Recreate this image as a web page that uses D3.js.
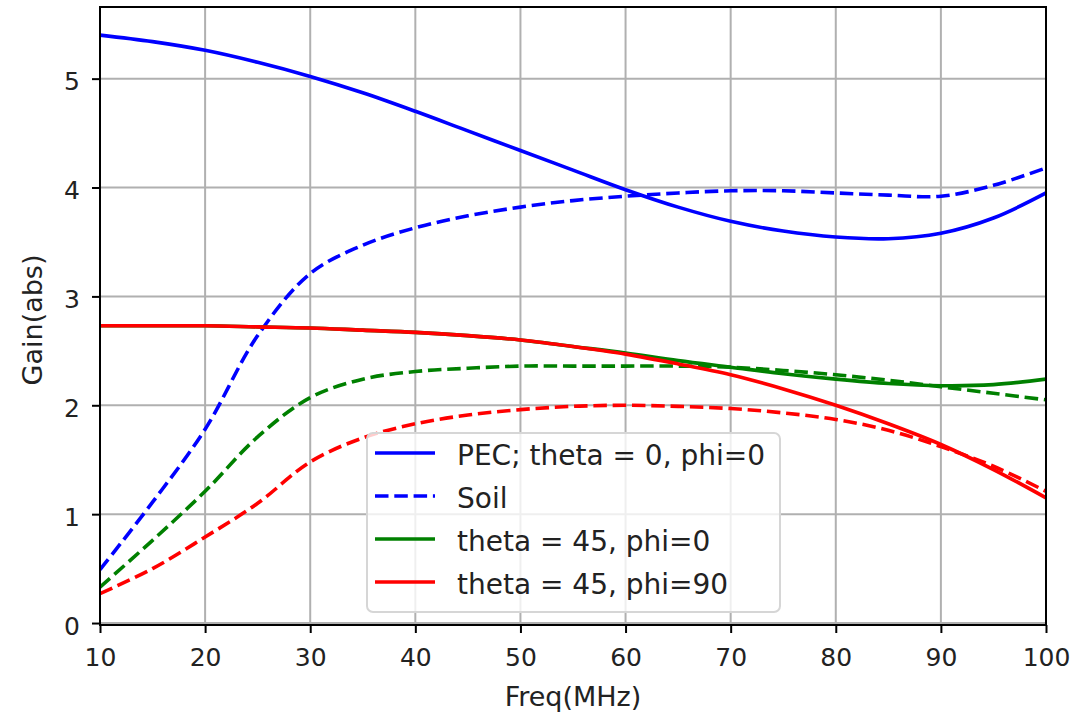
<!DOCTYPE html>
<html>
<head>
<meta charset="utf-8">
<script src="https://cdn.jsdelivr.net/npm/d3@7"></script>
<style>
  html, body { margin: 0; padding: 0; background: #ffffff; }
  svg { display: block; font-family: "DejaVu Sans", sans-serif; }
</style>
</head>
<body>
<svg id="chart" width="1085" height="716"></svg>
<script>
// Frequency samples (MHz)
const freq = [10, 15, 20, 25, 30, 35, 40, 45, 50, 55, 60, 65, 70, 75, 80, 85, 90, 95, 100];

// Gain (abs) per configuration
const pecTheta0 = [5.40, 5.34, 5.26, 5.15, 5.02, 4.87, 4.70, 4.52, 4.34, 4.16, 3.98, 3.82, 3.69, 3.60, 3.545, 3.53, 3.58, 3.72, 3.95];
const soilTheta0 = [0.49, 1.11, 1.78, 2.64, 3.21, 3.47, 3.63, 3.74, 3.82, 3.88, 3.92, 3.95, 3.97, 3.97, 3.95, 3.93, 3.92, 4.02, 4.18];
const pecTheta45Phi0 = [2.73, 2.73, 2.73, 2.72, 2.71, 2.69, 2.67, 2.64, 2.60, 2.54, 2.48, 2.41, 2.35, 2.29, 2.24, 2.20, 2.18, 2.19, 2.24];
const soilTheta45Phi0 = [0.33, 0.76, 1.21, 1.71, 2.07, 2.24, 2.31, 2.34, 2.36, 2.36, 2.36, 2.36, 2.35, 2.32, 2.28, 2.23, 2.17, 2.11, 2.05];
const pecTheta45Phi90 = [2.73, 2.73, 2.73, 2.72, 2.71, 2.69, 2.67, 2.64, 2.60, 2.54, 2.47, 2.38, 2.28, 2.15, 2.00, 1.83, 1.64, 1.41, 1.15];
const soilTheta45Phi90 = [0.27, 0.50, 0.79, 1.10, 1.48, 1.70, 1.83, 1.91, 1.96, 1.99, 2.00, 1.99, 1.97, 1.93, 1.87, 1.77, 1.62, 1.44, 1.21];

const xTicks = [10, 20, 30, 40, 50, 60, 70, 80, 90, 100];
const yTicks = [0, 1, 2, 3, 4, 5];

const series = [
  { values: pecTheta0, color: "#0000ff", dashed: false },
  { values: soilTheta0, color: "#0000ff", dashed: true },
  { values: pecTheta45Phi0, color: "#008000", dashed: false },
  { values: soilTheta45Phi0, color: "#008000", dashed: true },
  { values: pecTheta45Phi90, color: "#ff0000", dashed: false },
  { values: soilTheta45Phi90, color: "#ff0000", dashed: true }
];

const legendItems = [
  { label: "PEC; theta = 0, phi=0", color: "#0000ff", dashed: false },
  { label: "Soil", color: "#0000ff", dashed: true },
  { label: "theta = 45, phi=0", color: "#008000", dashed: false },
  { label: "theta = 45, phi=90", color: "#ff0000", dashed: false }
];

const plot = { left: 100, right: 1046, top: 7, bottom: 625 };
const svg = d3.select("#chart");

const x = d3.scaleLinear().domain([10, 100]).range([plot.left, plot.right]);
const y = d3.scaleLinear().domain([-0.018, 5.658]).range([plot.bottom, plot.top]);

// Grid
const grid = svg.append("g").attr("stroke", "#b0b0b0").attr("stroke-width", 2);
grid.selectAll("line.gx").data(xTicks).join("line")
  .attr("x1", d => x(d)).attr("x2", d => x(d))
  .attr("y1", plot.top).attr("y2", plot.bottom);
grid.selectAll("line.gy").data(yTicks).join("line")
  .attr("x1", plot.left).attr("x2", plot.right)
  .attr("y1", d => y(d)).attr("y2", d => y(d));

// Curves
svg.append("defs").append("clipPath").attr("id", "plotClip")
  .append("rect").attr("x", plot.left).attr("y", plot.top)
  .attr("width", plot.right - plot.left).attr("height", plot.bottom - plot.top);

const line = d3.line()
  .x((d, i) => x(freq[i]))
  .y(d => y(d))
  .curve(d3.curveCatmullRom.alpha(0.5));

svg.append("g").attr("clip-path", "url(#plotClip)")
  .selectAll("path").data(series).join("path")
  .attr("d", d => line(d.values))
  .attr("fill", "none")
  .attr("stroke", d => d.color)
  .attr("stroke-width", 3.6)
  .attr("stroke-dasharray", d => d.dashed ? "13.5,5.8" : null);

// Axes
const xAxis = d3.axisBottom(x).tickValues(xTicks).tickSize(8).tickPadding(15).tickFormat(d3.format("d"));
const yAxis = d3.axisLeft(y).tickValues(yTicks).tickSize(8).tickPadding(12).tickFormat(d3.format("d"));

const gx = svg.append("g").attr("transform", `translate(0,${plot.bottom})`).call(xAxis);
const gy = svg.append("g").attr("transform", `translate(${plot.left},0)`).call(yAxis);
[gx, gy].forEach(g => {
  g.select(".domain").remove();
  g.selectAll(".tick line").attr("stroke", "#000").attr("stroke-width", 2);
  g.selectAll(".tick text").attr("fill", "#222").attr("font-size", 25)
    .attr("font-family", "DejaVu Sans, sans-serif");
});
gy.selectAll(".tick text").attr("dy", "0.45em");

// Frame
svg.append("rect")
  .attr("x", plot.left).attr("y", plot.top)
  .attr("width", plot.right - plot.left).attr("height", plot.bottom - plot.top)
  .attr("fill", "none").attr("stroke", "#000").attr("stroke-width", 2);

// Axis titles
svg.append("text")
  .attr("x", (plot.left + plot.right) / 2).attr("y", 706)
  .attr("text-anchor", "middle").attr("font-size", 27).attr("fill", "#222")
  .text("Freq(MHz)");
svg.append("text")
  .attr("transform", `translate(42,320) rotate(-90)`)
  .attr("text-anchor", "middle").attr("font-size", 27).attr("fill", "#222")
  .text("Gain(abs)");

// Legend
const lg = svg.append("g").attr("transform", "translate(367,433)");
lg.append("rect")
  .attr("width", 413).attr("height", 179).attr("rx", 6).attr("ry", 6)
  .attr("fill", "#ffffff").attr("fill-opacity", 0.8)
  .attr("stroke", "#d6d6d6").attr("stroke-width", 2);
const rows = lg.selectAll("g.row").data(legendItems).join("g")
  .attr("transform", (d, i) => `translate(0,${20 + i * 43})`);
rows.append("line")
  .attr("x1", 8).attr("x2", 68).attr("y1", 0).attr("y2", 0)
  .attr("stroke", d => d.color).attr("stroke-width", 3.6)
  .attr("stroke-dasharray", d => d.dashed ? "13.5,5.8" : null);
rows.append("text")
  .attr("x", 90).attr("y", 12).attr("font-size", 28).attr("fill", "#222")
  .text(d => d.label);
</script>
</body>
</html>
